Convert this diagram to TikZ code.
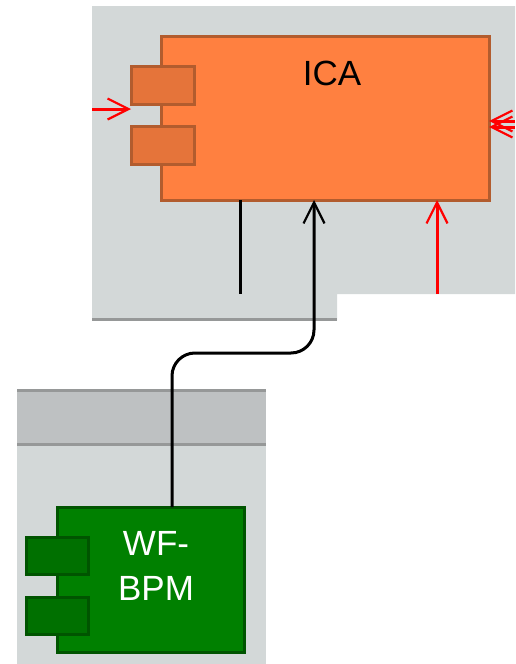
\documentclass[tikz,border=0pt]{standalone}
\usepackage{fontspec}
\setmainfont{Liberation Sans}
\usetikzlibrary{arrows.meta}
\definecolor{bgpanel}{RGB}{211,216,216}
\definecolor{hdrpanel}{RGB}{190,193,194}
\definecolor{panelline}{RGB}{150,152,152}
\definecolor{icafill}{RGB}{255,128,64}
\definecolor{icaborder}{RGB}{178,92,46}
\definecolor{icaport}{RGB}{229,116,58}
\definecolor{wffill}{RGB}{0,128,0}
\definecolor{wfborder}{RGB}{0,84,0}
\definecolor{wfport}{RGB}{0,112,0}
\definecolor{redline}{RGB}{255,0,0}
\tikzset{
  icabox/.style={draw=icaborder, fill=icafill, line width=3pt, rectangle, inner sep=0pt, outer sep=0pt},
  icaportbox/.style={draw=icaborder, fill=icaport, line width=3pt, rectangle, inner sep=0pt, outer sep=0pt, minimum width=63pt, minimum height=38pt},
  wfbox/.style={draw=wfborder, fill=wffill, line width=3pt, rectangle, inner sep=0pt, outer sep=0pt},
  wfportbox/.style={draw=wfborder, fill=wfport, line width=3pt, rectangle, inner sep=0pt, outer sep=0pt, minimum width=62pt, minimum height=37pt},
  lbl/.style={font=\fontsize{35}{45}\selectfont, inner sep=0pt},
  barb/.style={-{Straight Barb[length=21pt,width=21pt,line width=2.2pt]}},
  conn/.style={line width=3pt, black},
  redconn/.style={line width=3pt, redline},
}
\begin{document}
\begin{tikzpicture}[x=1pt,y=-1pt]
\useasboundingbox (0,0) rectangle (515,664);
% top panel
\fill[bgpanel] (92,6) -- (515,6) -- (515,294) -- (337,294) -- (337,320) -- (92,320) -- cycle;
\draw[panelline, line width=3pt] (92,319) -- (337,319);
% bottom panel
\fill[bgpanel] (17,389) rectangle (266,664);
\fill[hdrpanel] (17,389) rectangle (266,444);
\draw[panelline, line width=3pt] (17,390) -- (266,390);
\draw[panelline, line width=3pt] (17,444) -- (266,444);
% ICA component
\node[icabox, minimum width=328pt, minimum height=164pt] (ica) at (325,118) {};
\node[icaportbox] (icap1) at (162.5,85) {};
\node[icaportbox] (icap2) at (162.5,145) {};
\node[lbl, text=black] (icalbl) at (332,73) {ICA};
% WF-BPM component
\node[wfbox, minimum width=187pt, minimum height=145pt] (wf) at (150.5,579.5) {};
\node[wfportbox] (wfp1) at (57,555.5) {};
\node[wfportbox] (wfp2) at (57,615.5) {};
\node[lbl, text=white, align=center] (wflbl) at (156,566) {WF-\\BPM};
% free ends
\coordinate (lin) at (92,109);
\coordinate (rin1) at (515,121);
\coordinate (rin2) at (515,127);
\coordinate (bend) at (240,294);
\coordinate (rend) at (437,294);
% connectors
\draw[redconn, barb] (lin) -- (lin -| icap1.west);
\draw[redconn, barb] (rin1) -- (rin1 -| ica.east);
\draw[redconn, barb] (rin2) -- (rin2 -| ica.east);
\draw[conn] (bend |- ica.south) -- (bend);
\draw[redconn, barb] (rend) -- (rend |- ica.south);
\draw[conn, barb, rounded corners=23pt] ([xshift=21.5pt]wf.north) -- (172,353) -- (314,353) -- ([xshift=-11pt]ica.south);
\end{tikzpicture}
\end{document}
